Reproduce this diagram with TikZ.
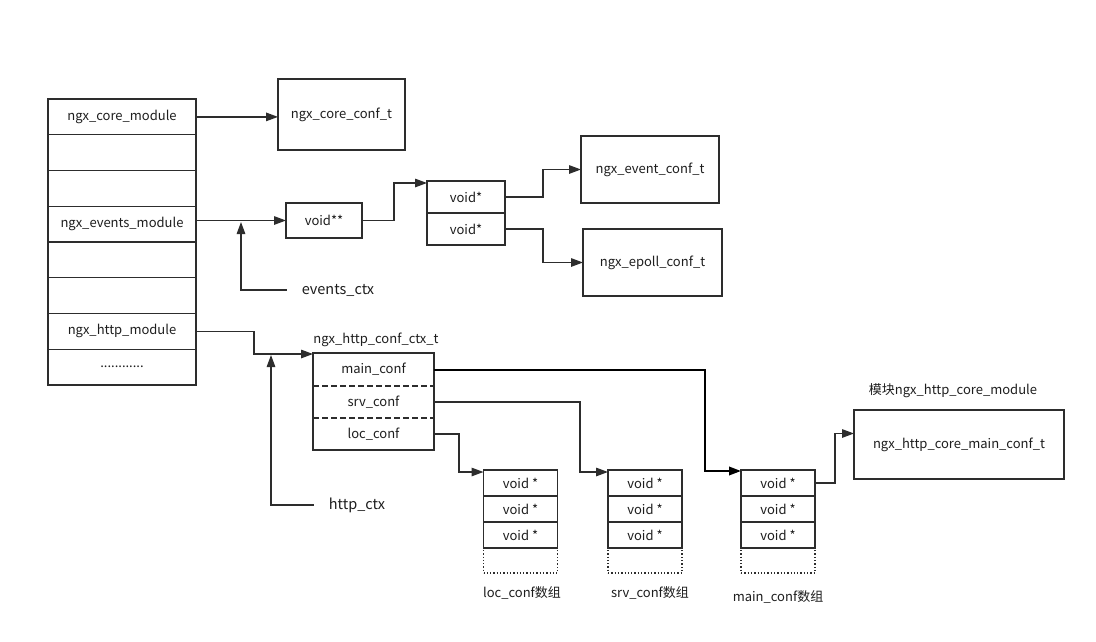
\documentclass[tikz,border=0pt]{standalone}
\usepackage{fontspec}
\setmainfont{Noto Sans CJK SC}
\usetikzlibrary{arrows.meta}
\definecolor{linec}{RGB}{45,45,45}
\definecolor{textc}{RGB}{30,30,30}
\tikzset{
  txt/.style={font=\fontsize{13}{15}\selectfont, text=textc, inner sep=0pt},
  bigtxt/.style={font=\fontsize{14.5}{16}\selectfont, text=textc, inner sep=0pt},
  cell/.style={txt, draw=linec, line width=1.3pt, outer sep=0pt},
  plain/.style={txt, outer sep=0pt},
  modrow/.style={cell, minimum width=148pt, minimum height=35.75pt},
  slot/.style={cell, minimum width=74pt, minimum height=26pt},
  spare/.style={draw=linec, line width=1.3pt, dotted, minimum width=74pt, minimum height=25pt, inner sep=0pt, outer sep=0pt},
  link/.style={draw=linec, line width=1.3pt, -{Triangle[length=12pt,width=8.5pt]}},
  boldlink/.style={draw=black, line width=2pt, -{Triangle[length=12pt,width=8.5pt]}},
}
\begin{document}
\begin{tikzpicture}[x=1pt,y=-1pt]
\useasboundingbox[fill=white] (0,0) rectangle (1096,642);

% module table
\node[modrow] (m1) at (122,116.9) {ngx\_core\_module};
\node[modrow] (m2) at (122,152.6) {};
\node[modrow] (m3) at (122,188.4) {};
\node[modrow] (m4) at (122,224.1) {ngx\_events\_module};
\node[modrow] (m5) at (122,259.9) {};
\node[modrow] (m6) at (122,295.6) {};
\node[modrow] (m7) at (122,331.4) {ngx\_http\_module};
\node[modrow] (m8) at (122,367.1) {............};

% core / events configuration
\node[cell, minimum width=127pt, minimum height=71pt] (core) at (341.5,114.5) {ngx\_core\_conf\_t};
\node[cell, minimum width=76pt, minimum height=35pt] (vpp) at (324,220.5) {void**};
\node[cell, minimum width=78pt, minimum height=32pt] (va1) at (466,197) {void*};
\node[cell, minimum width=78pt, minimum height=32pt] (va2) at (466,229) {void*};
\node[cell, minimum width=138pt, minimum height=67pt] (evconf) at (650,169.5) {ngx\_event\_conf\_t};
\node[cell, minimum width=139pt, minimum height=67pt] (epoll) at (652.5,262.5) {ngx\_epoll\_conf\_t};
\node[bigtxt] (ectx) at (338,290) {events\_ctx};
\coordinate (ej) at (241,222);

% http configuration context
\node[txt] (ctxt) at (376,340) {ngx\_http\_conf\_ctx\_t};
\node[plain, minimum width=121pt, minimum height=33pt] (c1) at (373.5,369.5) {main\_conf};
\node[plain, minimum width=121pt, minimum height=32pt] (c2) at (373.5,402) {srv\_conf};
\node[plain, minimum width=121pt, minimum height=32pt] (c3) at (373.5,434) {loc\_conf};
\draw[draw=linec, line width=1.3pt] (c1.north west) rectangle (c3.south east);
\draw[draw=linec, line width=1.3pt, dash pattern=on 6pt off 3pt] (c1.south west) -- (c1.south east);
\draw[draw=linec, line width=1.3pt, dash pattern=on 6pt off 3pt] (c2.south west) -- (c2.south east);
\node[bigtxt] (hctx) at (357,505) {http\_ctx};
\coordinate (hj) at (271,355);

% configuration arrays
\foreach \nm/\cx in {la/520.5, sa/645, ma/778}{
  \node[spare] (\nm4) at (\cx,560.5) {};
  \node[slot] (\nm1) at (\cx,483) {void *};
  \node[slot] (\nm2) at (\cx,509) {void *};
  \node[slot] (\nm3) at (\cx,535) {void *};
}
\node[txt] (lal) at (522,593) {loc\_conf数组};
\node[txt] (sal) at (650,593) {srv\_conf数组};
\node[txt] (mal) at (778,597) {main\_conf数组};

% http core module
\node[txt] (hcl) at (953,391) {模块ngx\_http\_core\_module};
\node[cell, minimum width=210pt, minimum height=69pt] (hcore) at (959,444.5) {ngx\_http\_core\_main\_conf\_t};

% connectors
\draw[link] (m1.east) -- (m1.east -| core.west);
\draw[link] (m4.east |- vpp.west) -- (vpp.west);
\draw[link] ([xshift=-15pt]ectx.west) -| (ej);
\draw[link] (vpp.east) -- ++(32,0) |- ([yshift=-2pt]va1.north west);
\draw[link] (va1.east) -- ++(38,0) |- (evconf.west);
\draw[link] (va2.east) -- ++(38,0) |- (epoll.west);
\draw[link] (m7.east) -- ++(58,0) |- ([yshift=-1pt]c1.north west);
\draw[link] ([xshift=-15pt]hctx.west) -| (hj);
\draw[boldlink] (c1.east) -- ++(271,0) |- ([yshift=-1pt]ma1.north west);
\draw[link] (c2.east) -- ++(146,0) |- ([yshift=-2pt]sa1.north west);
\draw[link] (c3.east) -- ++(25,0) |- ([yshift=-2pt]la1.north west);
\draw[link] (ma1.east) -- ++(20,0) |- ([yshift=11pt]hcore.west);
\end{tikzpicture}
\end{document}
